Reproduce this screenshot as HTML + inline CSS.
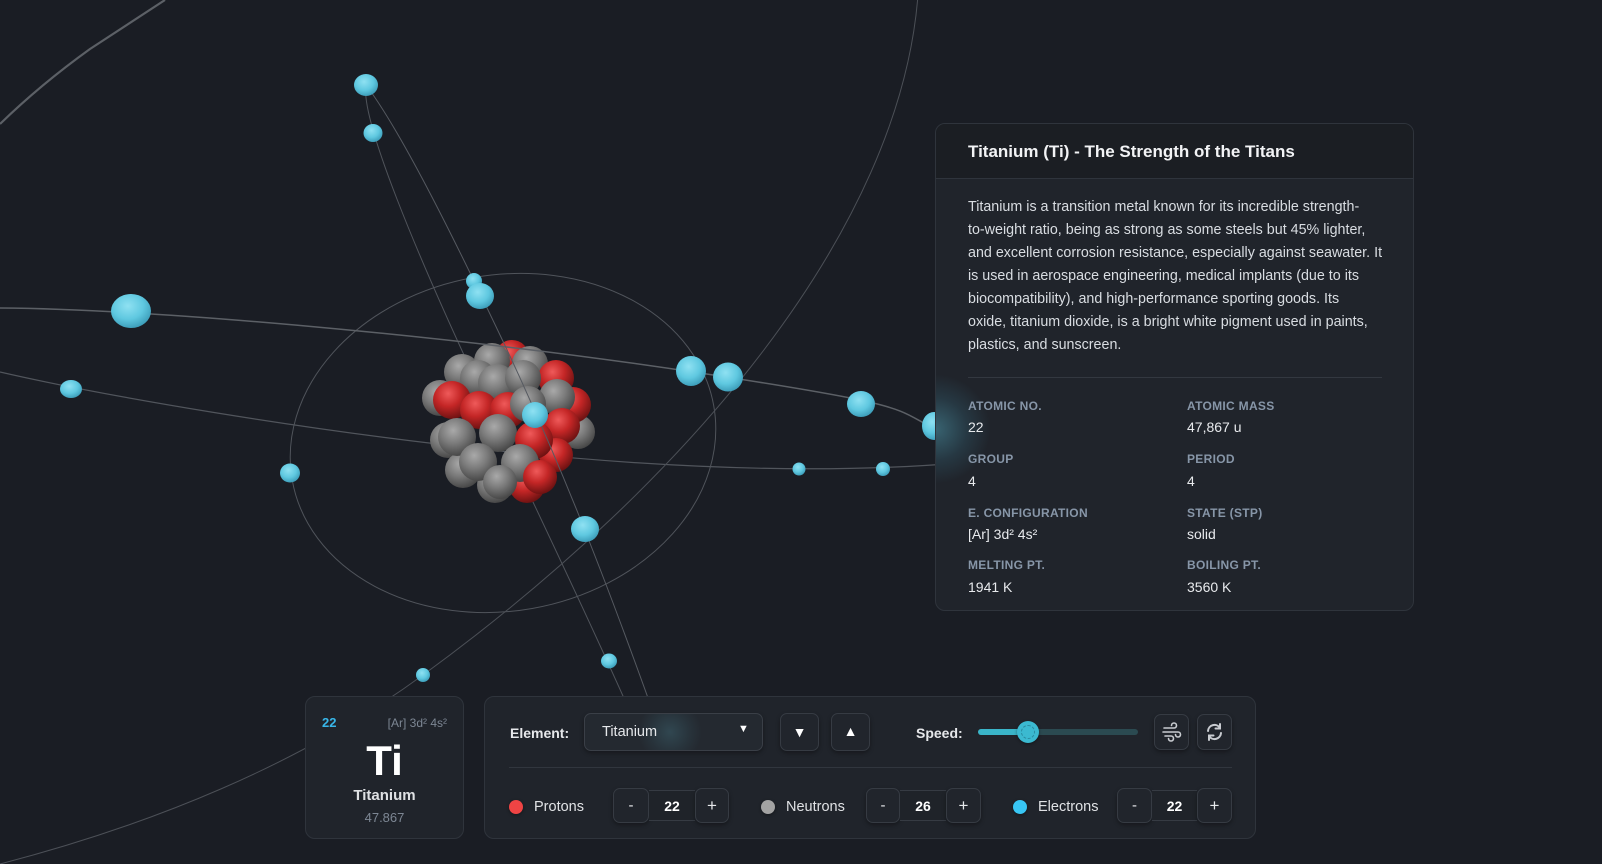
<!DOCTYPE html>
<html><head><meta charset="utf-8">
<style>
*{margin:0;padding:0;box-sizing:border-box}
html,body{width:1602px;height:864px;overflow:hidden;background:#1a1d24;font-family:"Liberation Sans",Arial,sans-serif;color:#e6e8eb}
.a{position:absolute;white-space:nowrap}
#bg{position:absolute;left:0;top:0}
.panel{position:absolute;background:#20242b;border:1px solid #2f343c;border-radius:10px}
.btn{position:absolute;background:#21252c;border:1px solid #363b43;border-radius:7px;box-shadow:0 2px 4px rgba(0,0,0,.35)}
.lbl{font-size:12px;font-weight:bold;color:#8796a8;letter-spacing:.3px;line-height:16px}
.val{font-size:14px;color:#e8eaed;line-height:18px}
.body{font-size:14.3px;color:#d9dde2;line-height:23px}
</style></head><body>
<svg id="bg" width="1602" height="864" viewBox="0 0 1602 864">
<defs>
<radialGradient id="e" cx="42%" cy="35%" r="65%"><stop offset="0" stop-color="#8fe1f2"/><stop offset="0.6" stop-color="#5fc8e0"/><stop offset="1" stop-color="#3e9fbb"/></radialGradient>
<radialGradient id="g" cx="40%" cy="33%" r="68%"><stop offset="0" stop-color="#a9a9a9"/><stop offset="0.5" stop-color="#7b7b7b"/><stop offset="1" stop-color="#474747"/></radialGradient>
<radialGradient id="r" cx="40%" cy="33%" r="68%"><stop offset="0" stop-color="#ef5a5a"/><stop offset="0.5" stop-color="#c42626"/><stop offset="1" stop-color="#6e1212"/></radialGradient>
</defs>
<g fill="none">
<path d="M0,372 C100,395 300,430 500,451 S850,472 960,463" stroke="#51555c" stroke-width="1.2"/>
<ellipse cx="503" cy="443" rx="214" ry="168" transform="rotate(-10 503 443)" stroke="#50545b" stroke-width="1"/>
<path d="M366,85 C360,120 420,260 470,368 S600,640 660,780" stroke="#50545b" stroke-width="1"/>
<path d="M918,-5 C900,230 690,480 423,675 C300,765 150,825 0,864" stroke="#4c5057" stroke-width="1"/>
<path d="M165,0 L90,49 Q40,85 0,124" stroke="#5c6066" stroke-width="2.2"/>
</g>
<g>
<circle cx="440" cy="398" r="18" fill="url(#g)"/>
<circle cx="448" cy="440" r="18" fill="url(#g)"/>
<circle cx="463" cy="470" r="18" fill="url(#g)"/>
<circle cx="495" cy="485" r="18" fill="url(#g)"/>
<circle cx="527" cy="485" r="18" fill="url(#r)"/>
<circle cx="578" cy="432" r="17" fill="url(#g)"/>
<circle cx="573" cy="405" r="18" fill="url(#r)"/>
<circle cx="462" cy="372" r="18" fill="url(#g)"/>
<circle cx="512" cy="357" r="17" fill="url(#r)"/>
<circle cx="492" cy="361" r="18" fill="url(#g)"/>
<circle cx="530" cy="364" r="18" fill="url(#g)"/>
<circle cx="556" cy="378" r="18" fill="url(#r)"/>
<circle cx="478" cy="378" r="18" fill="url(#g)"/>
<circle cx="497" cy="383" r="19" fill="url(#g)"/>
<circle cx="523" cy="378" r="18" fill="url(#g)"/>
<circle cx="452" cy="400" r="19" fill="url(#r)"/>
<circle cx="557" cy="397" r="18" fill="url(#g)"/>
<circle cx="479" cy="410" r="19" fill="url(#r)"/>
<circle cx="508" cy="410" r="18" fill="url(#r)"/>
<circle cx="528" cy="404" r="18" fill="url(#g)"/>
<circle cx="457" cy="437" r="19" fill="url(#g)"/>
<circle cx="562" cy="426" r="18" fill="url(#r)"/>
<circle cx="556" cy="455" r="17" fill="url(#r)"/>
<circle cx="498" cy="433" r="19" fill="url(#g)"/>
<circle cx="534" cy="440" r="19" fill="url(#r)"/>
<circle cx="478" cy="462" r="19" fill="url(#g)"/>
<circle cx="520" cy="463" r="19" fill="url(#g)"/>
<circle cx="540" cy="477" r="17" fill="url(#r)"/>
<circle cx="500" cy="482" r="17" fill="url(#g)"/>
</g>
<g fill="none">
<path d="M0,308 C150,309 450,335 700,373 S880,408 960,440" stroke="#5c6066" stroke-width="1.5"/>
<path d="M366,85 C400,130 450,230 500,335 S600,560 670,760" stroke="#565a61" stroke-width="1"/>
</g>
<g fill="url(#e)">
<ellipse cx="366" cy="85" rx="12" ry="11"/>
<ellipse cx="373" cy="133" rx="9.5" ry="9"/>
<ellipse cx="474" cy="281" rx="8" ry="8"/>
<ellipse cx="480" cy="296" rx="14" ry="13"/>
<ellipse cx="131" cy="311" rx="20" ry="17"/>
<ellipse cx="71" cy="389" rx="11" ry="9"/>
<ellipse cx="290" cy="473" rx="10" ry="9.5"/>
<ellipse cx="535" cy="415" rx="13" ry="13"/>
<ellipse cx="691" cy="371" rx="15" ry="15"/>
<ellipse cx="728" cy="377" rx="15" ry="14.5"/>
<ellipse cx="861" cy="404" rx="14" ry="13"/>
<ellipse cx="934" cy="426" rx="12" ry="14"/>
<ellipse cx="799" cy="469" rx="6.5" ry="6.5"/>
<ellipse cx="883" cy="469" rx="7" ry="7"/>
<ellipse cx="585" cy="529" rx="14" ry="13"/>
<ellipse cx="609" cy="661" rx="8" ry="7.5"/>
<ellipse cx="423" cy="675" rx="7" ry="7"/>
</g>
</svg>

<!-- Info panel -->
<div class="panel" style="left:935px;top:123px;width:479px;height:488px;overflow:hidden">
  <div style="position:absolute;left:0;top:0;width:100%;height:55px;background:#1b1e23;border-bottom:1px solid #2f343c"></div>
  <div style="position:absolute;left:-55px;top:250px;width:110px;height:110px;border-radius:50%;background:radial-gradient(circle,rgba(95,200,225,.38) 0%,rgba(70,160,190,.16) 40%,rgba(60,140,170,0) 70%)"></div>
</div>
<div class="a" style="left:968px;top:141px;font-size:17px;font-weight:bold;line-height:22px;color:#f2f3f5">Titanium (Ti) - The Strength of the Titans</div>
<div class="a body" style="left:968px;top:196px">Titanium is a transition metal known for its incredible strength-<br>to-weight ratio, being as strong as some steels but 45% lighter,<br>and excellent corrosion resistance, especially against seawater. It<br>is used in aerospace engineering, medical implants (due to its<br>biocompatibility), and high-performance sporting goods. Its<br>oxide, titanium dioxide, is a bright white pigment used in paints,<br>plastics, and sunscreen.</div>
<div class="a" style="left:968px;top:377px;width:414px;height:1px;background:#333840"></div>

<div class="a lbl" style="left:968px;top:398px">ATOMIC NO.</div>
<div class="a val" style="left:968px;top:418px">22</div>
<div class="a lbl" style="left:1187px;top:398px">ATOMIC MASS</div>
<div class="a val" style="left:1187px;top:418px">47,867 u</div>
<div class="a lbl" style="left:968px;top:451px">GROUP</div>
<div class="a val" style="left:968px;top:472px">4</div>
<div class="a lbl" style="left:1187px;top:451px">PERIOD</div>
<div class="a val" style="left:1187px;top:472px">4</div>
<div class="a lbl" style="left:968px;top:505px">E. CONFIGURATION</div>
<div class="a val" style="left:968px;top:525px">[Ar] 3d² 4s²</div>
<div class="a lbl" style="left:1187px;top:505px">STATE (STP)</div>
<div class="a val" style="left:1187px;top:525px">solid</div>
<div class="a lbl" style="left:968px;top:557px">MELTING PT.</div>
<div class="a val" style="left:968px;top:578px">1941 K</div>
<div class="a lbl" style="left:1187px;top:557px">BOILING PT.</div>
<div class="a val" style="left:1187px;top:578px">3560 K</div>

<!-- Element card -->
<div class="panel" style="left:305px;top:696px;width:159px;height:143px"></div>
<div class="a" style="left:322px;top:715px;font-size:13px;font-weight:bold;color:#38b6e8;line-height:16px">22</div>
<div class="a" style="left:347px;width:100px;text-align:right;top:716px;font-size:12px;color:#7d8794;line-height:15px">[Ar] 3d² 4s²</div>
<div class="a" style="left:305px;width:159px;text-align:center;top:740px;font-size:42px;font-weight:bold;color:#fff;line-height:42px">Ti</div>
<div class="a" style="left:305px;width:159px;text-align:center;top:787px;font-size:15px;font-weight:bold;color:#dfe1e4;line-height:18px">Titanium</div>
<div class="a" style="left:305px;width:159px;text-align:center;top:810px;font-size:13px;color:#7d8794;line-height:16px">47.867</div>

<!-- Control panel -->
<div class="panel" style="left:484px;top:696px;width:772px;height:143px"></div>
<div class="a" style="left:510px;top:724px;font-size:14px;font-weight:bold;color:#e6e8eb;line-height:18px">Element:</div>
<div class="btn" style="left:584px;top:713px;width:179px;height:38px;background:#242930;border-color:#3a3f47;overflow:hidden">
  <div style="position:absolute;left:53px;top:-14px;width:64px;height:64px;border-radius:50%;background:radial-gradient(circle,rgba(100,190,210,.2) 0%,rgba(80,160,180,.08) 45%,rgba(60,140,160,0) 70%)"></div>
</div>
<div class="a" style="left:602px;top:723px;font-size:14.5px;color:#e6e8eb;line-height:18px">Titanium</div>
<div class="a" style="left:738px;top:722px;font-size:11px;color:#fff;line-height:14px">▼</div>

<div class="btn" style="left:780px;top:713px;width:39px;height:38px"></div>
<div class="a" style="left:780px;width:39px;text-align:center;top:724px;font-size:14px;color:#fff;line-height:16px">▼</div>
<div class="btn" style="left:831px;top:713px;width:39px;height:38px"></div>
<div class="a" style="left:831px;width:39px;text-align:center;top:723px;font-size:14px;color:#fff;line-height:16px">▲</div>

<div class="a" style="left:916px;top:724px;font-size:14px;font-weight:bold;color:#e6e8eb;line-height:18px">Speed:</div>
<div class="a" style="left:978px;top:729px;width:160px;height:6px;border-radius:3px;background:#2b4a51"></div>
<div class="a" style="left:978px;top:729px;width:50px;height:6px;border-radius:3px;background:#3ab5c9"></div>
<div class="a" style="left:1017px;top:721px;width:22px;height:22px;border-radius:50%;background:#3bb9d0;box-shadow:0 1px 3px rgba(0,0,0,.4)"></div>
<div class="a" style="left:1021px;top:725px;width:14px;height:14px;border-radius:50%;border:1px dashed rgba(30,110,130,.6)"></div>

<div class="btn" style="left:1154px;top:714px;width:35px;height:36px"></div>
<svg class="a" style="left:1154px;top:714px" width="35" height="36" viewBox="0 0 35 36" fill="none" stroke="#c9ccd1" stroke-width="1.6" stroke-linecap="round">
<path d="M10,14 H20 A2.5,2.5 0 1 0 17.5,11.5"/>
<path d="M9,18 H24 A2.5,2.5 0 1 1 21.5,20.5"/>
<path d="M11,22 H17 A2.5,2.5 0 1 1 14.5,24.5"/>
</svg>
<div class="btn" style="left:1197px;top:714px;width:35px;height:36px"></div>
<svg class="a" style="left:1197px;top:714px" width="35" height="36" viewBox="0 0 35 36" fill="none" stroke="#c9ccd1" stroke-width="2" stroke-linecap="round">
<path d="M11,17 A6.5,6.5 0 0 1 23,14"/>
<path d="M24,19 A6.5,6.5 0 0 1 12,22"/>
<path d="M23,10 V14.5 H18.5"/>
<path d="M12,26 V21.5 H16.5"/>
</svg>

<div class="a" style="left:509px;top:767px;width:723px;height:1px;background:#31363e"></div>

<!-- Particle rows -->
<div class="a" style="left:509px;top:800px;width:14px;height:14px;border-radius:50%;background:#ef4444;box-shadow:0 1px 3px rgba(0,0,0,.4)"></div>
<div class="a" style="left:534px;top:798px;font-size:14.5px;color:#e0e2e5;line-height:18px">Protons</div>
<div class="btn" style="left:613px;top:788px;width:36px;height:35px"></div>
<div class="a" style="left:649px;top:790px;width:46px;height:31px;border-top:1px solid #363b43;border-bottom:1px solid #363b43;background:#1f2329"></div>
<div class="btn" style="left:695px;top:788px;width:34px;height:35px"></div>
<div class="a" style="left:613px;width:36px;text-align:center;top:797px;font-size:15px;color:#e6e8eb;line-height:18px">-</div>
<div class="a" style="left:649px;width:46px;text-align:center;top:797px;font-size:14px;font-weight:bold;color:#fff;line-height:18px">22</div>
<div class="a" style="left:695px;width:34px;text-align:center;top:796px;font-size:17px;color:#e6e8eb;line-height:20px">+</div>

<div class="a" style="left:761px;top:800px;width:14px;height:14px;border-radius:50%;background:#a3a3a3;box-shadow:0 1px 3px rgba(0,0,0,.4)"></div>
<div class="a" style="left:786px;top:798px;font-size:14.5px;color:#e0e2e5;line-height:18px">Neutrons</div>
<div class="btn" style="left:866px;top:788px;width:34px;height:35px"></div>
<div class="a" style="left:900px;top:790px;width:46px;height:31px;border-top:1px solid #363b43;border-bottom:1px solid #363b43;background:#1f2329"></div>
<div class="btn" style="left:946px;top:788px;width:35px;height:35px"></div>
<div class="a" style="left:866px;width:34px;text-align:center;top:797px;font-size:15px;color:#e6e8eb;line-height:18px">-</div>
<div class="a" style="left:900px;width:46px;text-align:center;top:797px;font-size:14px;font-weight:bold;color:#fff;line-height:18px">26</div>
<div class="a" style="left:946px;width:35px;text-align:center;top:796px;font-size:17px;color:#e6e8eb;line-height:20px">+</div>

<div class="a" style="left:1013px;top:800px;width:14px;height:14px;border-radius:50%;background:#38c6f4;box-shadow:0 1px 3px rgba(0,0,0,.4)"></div>
<div class="a" style="left:1038px;top:798px;font-size:14.5px;color:#e0e2e5;line-height:18px">Electrons</div>
<div class="btn" style="left:1117px;top:788px;width:35px;height:35px"></div>
<div class="a" style="left:1152px;top:790px;width:45px;height:31px;border-top:1px solid #363b43;border-bottom:1px solid #363b43;background:#1f2329"></div>
<div class="btn" style="left:1197px;top:788px;width:35px;height:35px"></div>
<div class="a" style="left:1117px;width:35px;text-align:center;top:797px;font-size:15px;color:#e6e8eb;line-height:18px">-</div>
<div class="a" style="left:1152px;width:45px;text-align:center;top:797px;font-size:14px;font-weight:bold;color:#fff;line-height:18px">22</div>
<div class="a" style="left:1197px;width:35px;text-align:center;top:796px;font-size:17px;color:#e6e8eb;line-height:20px">+</div>
</body></html>
